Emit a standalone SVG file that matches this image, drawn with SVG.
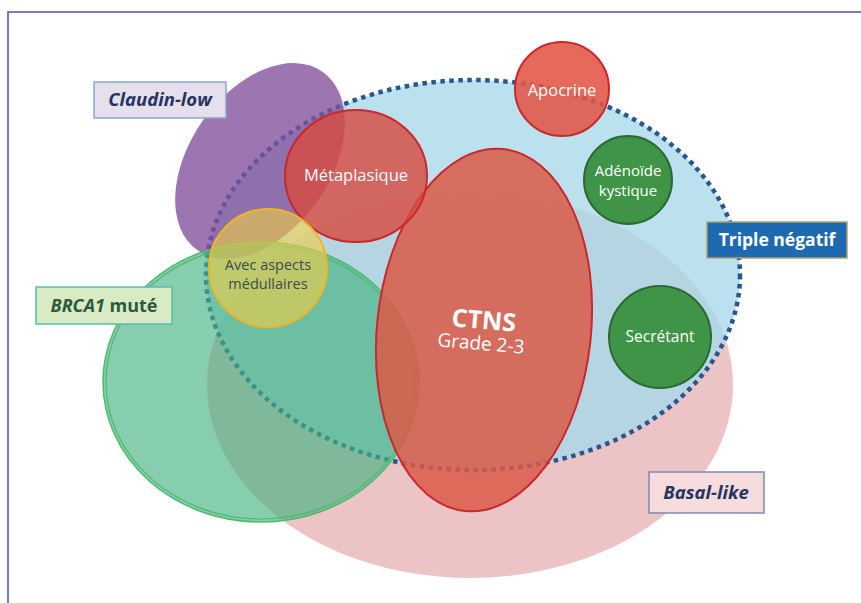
<svg xmlns="http://www.w3.org/2000/svg" width="861" height="603" viewBox="0 0 861 603">
<style>
.t{font-family:"Open Sans","Noto Sans","Liberation Sans",sans-serif;text-anchor:middle}
.w{fill:#ffffff}
.lbl{font-weight:bold;font-style:italic;font-size:18.5px;fill:#243660}
.red{stroke:#c8282e;stroke-width:2}
.gc{fill:#3f9447;stroke:#2a6a34;stroke-width:2}
</style>
<rect x="0" y="0" width="861" height="603" fill="#ffffff"/>
<path d="M8 603 V12 H861" fill="none" stroke="#4a55b0" stroke-width="1.5"/>

<g id="basal-like">
  <ellipse cx="470" cy="385" rx="263" ry="193" fill="#ecc4c6"/>
</g>
<g id="triple-negatif">
  <ellipse cx="473" cy="275" rx="267" ry="195" fill="#a9d9e8" fill-opacity="0.8"/>
  <ellipse cx="473" cy="275" rx="267" ry="195" fill="none" stroke="#2b5590" stroke-width="4.5" stroke-dasharray="4.5 4.5"/>
</g>
<g id="claudin-low">
  <ellipse cx="260" cy="161" rx="109" ry="70" transform="rotate(-55 260 161)" fill="#82509b" fill-opacity="0.78"/>
</g>
<g id="brca1">
  <ellipse cx="261" cy="382" rx="158" ry="140" fill="#46b482" fill-opacity="0.65" stroke="#4cba6a" stroke-width="1.5"/>
  <ellipse cx="261" cy="382" rx="155" ry="137" fill="none" stroke="#4cba6a" stroke-width="1.2"/>
</g>
<g id="ctns">
  <ellipse cx="484" cy="330" rx="107" ry="182" transform="rotate(6 484 330)" fill="#da5a46" fill-opacity="0.85" class="red"/>
  <text class="t w" x="484" y="329" font-size="25" font-weight="bold" transform="rotate(5 484 320)">CTNS</text>
  <text class="t w" x="481" y="350" font-size="19" transform="rotate(5 481 343)">Grade 2-3</text>
</g>
<g id="metaplasique">
  <ellipse cx="356" cy="176" rx="71" ry="66" fill="#d74b41" fill-opacity="0.82" class="red"/>
  <text class="t w" x="356" y="181" font-size="16.5">Métaplasique</text>
</g>
<g id="medullaires">
  <circle cx="268" cy="268" r="59" fill="#f0cd46" fill-opacity="0.62" stroke="#f0b428" stroke-width="2"/>
  <text class="t" x="268" y="270" font-size="14.5" fill="#404a50">Avec aspects</text>
  <text class="t" x="268" y="289" font-size="14.5" fill="#404a50">médullaires</text>
</g>
<g id="apocrine">
  <circle cx="562" cy="89" r="47" fill="#e15546" fill-opacity="0.88" class="red"/>
  <text class="t w" x="562" y="96" font-size="16.5">Apocrine</text>
</g>
<g id="adenoide">
  <circle cx="628" cy="180" r="44" class="gc"/>
  <text class="t w" x="628" y="176" font-size="15">Adénoïde</text>
  <text class="t w" x="628" y="196" font-size="15">kystique</text>
</g>
<g id="secretant">
  <circle cx="660" cy="337" r="51" class="gc"/>
  <text class="t w" x="660" y="342" font-size="15.5">Secrétant</text>
</g>

<g id="label-claudin">
  <rect x="94" y="82" width="132" height="36" fill="#e6dfec" stroke="#88a6d4" stroke-width="1.5"/>
  <text class="t lbl" x="160" y="106">Claudin-low</text>
</g>
<g id="label-brca1">
  <rect x="36" y="287" width="136" height="37" fill="#d8ebc5" stroke="#50c0ae" stroke-width="1.5"/>
  <text class="t" x="104" y="312" font-size="18" font-weight="bold" fill="#2c5a3c"><tspan font-style="italic">BRCA1</tspan> muté</text>
</g>
<g id="label-triple">
  <rect x="707" y="222" width="140" height="36" fill="#1e6ab0" stroke="#b3a070" stroke-width="1.5"/>
  <text class="t w" x="777" y="246" font-size="17.5" font-weight="bold">Triple négatif</text>
</g>
<g id="label-basal">
  <rect x="649" y="472" width="115" height="41" fill="#f6dcdc" stroke="#7a8ab0" stroke-width="1.5"/>
  <text class="t lbl" x="706" y="499" font-size="18">Basal-like</text>
</g>
<g id="connectors"></g>
</svg>
